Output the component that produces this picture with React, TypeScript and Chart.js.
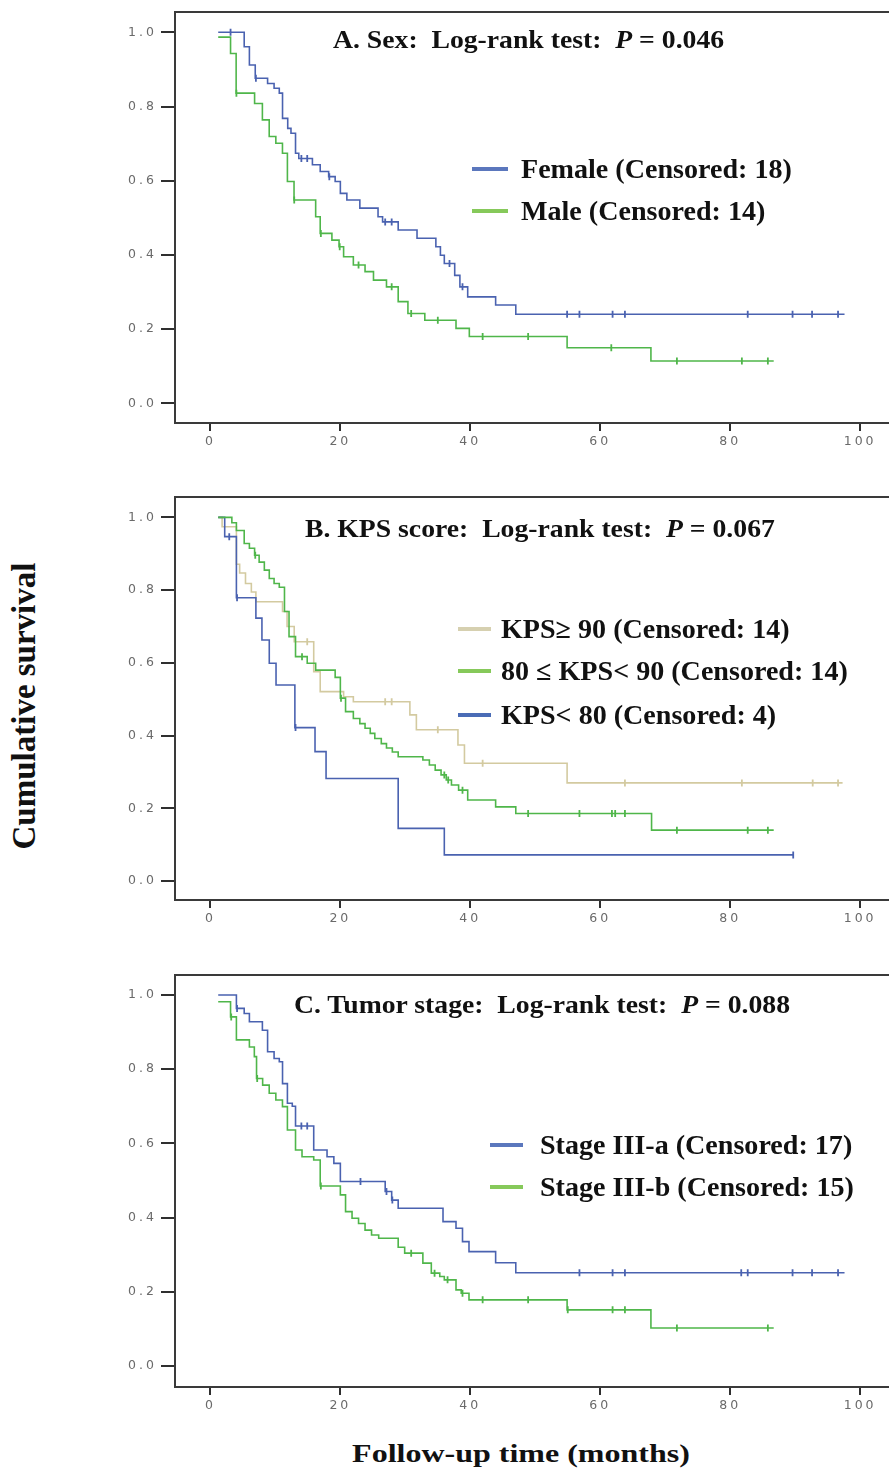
import React, { useEffect, useRef } from "react";
import { Chart, registerables } from "chart.js";

Chart.register(...registerables);

// ---------- tick labels ----------
const xTickValues = [0, 20, 40, 60, 80, 100];
const yTickValues = [0, 0.2, 0.4, 0.6, 0.8, 1.0];

// ---------- Panel A: Sex ----------
const femaleTimes = [1.2, 5.2, 6.0, 6.9, 8.8, 9.8, 10.6, 11.1, 11.9, 12.4, 13.1, 13.6, 15.7, 16.9, 18.2, 19.2, 20.0, 21.0, 23.0, 25.8, 26.5, 28.9, 31.8, 34.7, 35.4, 36.0, 37.6, 38.4, 39.6, 43.9, 47.0];
const femaleSurv = [1.0, 0.961, 0.912, 0.876, 0.862, 0.849, 0.836, 0.768, 0.741, 0.728, 0.674, 0.66, 0.643, 0.625, 0.611, 0.598, 0.566, 0.548, 0.526, 0.503, 0.489, 0.467, 0.445, 0.422, 0.399, 0.377, 0.345, 0.314, 0.287, 0.265, 0.24];
const femaleCensor = [3.1, 7.0, 14.0, 14.9, 18.3, 26.9, 27.9, 36.8, 38.8, 54.9, 56.8, 61.9, 63.8, 82.7, 89.6, 92.6, 96.6];
const femaleEnd = 97.6;

const maleTimes = [1.2, 3.1, 3.96, 6.8, 8.0, 9.05, 10.07, 11.09, 11.85, 12.87, 16.2, 16.9, 18.7, 19.8, 20.5, 22.0, 23.8, 25.1, 27.1, 28.9, 30.4, 33.0, 37.8, 39.85, 54.9, 67.8];
const maleSurv = [0.987, 0.943, 0.836, 0.808, 0.764, 0.719, 0.701, 0.674, 0.598, 0.548, 0.503, 0.458, 0.44, 0.422, 0.395, 0.373, 0.355, 0.332, 0.314, 0.274, 0.242, 0.224, 0.202, 0.18, 0.15, 0.114];
const maleCensor = [4.0, 12.9, 17.0, 19.9, 22.8, 27.9, 30.9, 35.0, 41.9, 48.9, 61.7, 71.8, 81.8, 85.8];
const maleEnd = 86.7;

// ---------- Panel B: KPS score ----------
const kpsHighTimes = [1.2, 1.8, 4.0, 4.5, 5.4, 6.3, 7.0, 11.1, 11.8, 12.9, 15.9, 16.9, 20.5, 22.0, 30.7, 31.7, 38.1, 39.1, 54.9];
const kpsHighSurv = [1.0, 0.974, 0.871, 0.847, 0.818, 0.795, 0.768, 0.741, 0.7, 0.658, 0.576, 0.521, 0.507, 0.493, 0.457, 0.416, 0.374, 0.324, 0.27];
const kpsHighCensor = [14.9, 26.9, 27.9, 35.0, 41.9, 63.8, 81.8, 92.7, 96.6];
const kpsHighEnd = 97.3;

const kpsMidTimes = [1.2, 3.3, 4.0, 5.2, 6.0, 6.8, 7.5, 8.3, 9.06, 9.8, 10.6, 11.4, 12.1, 13.1, 14.9, 16.2, 19.2, 20.0, 20.8, 22.0, 23.0, 23.8, 24.6, 25.3, 26.3, 27.1, 28.0, 28.9, 32.7, 33.7, 34.6, 35.5, 36.3, 37.1, 38.2, 39.6, 43.9, 47.0, 67.9];
const kpsMidSurv = [1.0, 0.985, 0.964, 0.928, 0.915, 0.896, 0.877, 0.855, 0.832, 0.818, 0.808, 0.741, 0.672, 0.617, 0.599, 0.58, 0.56, 0.503, 0.466, 0.447, 0.433, 0.42, 0.406, 0.392, 0.378, 0.366, 0.355, 0.342, 0.333, 0.319, 0.305, 0.292, 0.278, 0.264, 0.25, 0.223, 0.204, 0.186, 0.14];
const kpsMidCensor = [6.9, 14.1, 20.1, 36.0, 36.6, 38.8, 48.9, 56.8, 61.8, 62.3, 63.8, 71.8, 82.7, 85.8];
const kpsMidEnd = 86.7;

const kpsLowTimes = [1.2, 2.2, 4.0, 7.0, 7.93, 9.06, 10.1, 13.0, 16.1, 17.8, 28.9, 36.0];
const kpsLowSurv = [1.0, 0.947, 0.779, 0.723, 0.663, 0.599, 0.539, 0.422, 0.356, 0.282, 0.145, 0.072];
const kpsLowCensor = [2.9, 4.1, 13.1, 89.7];
const kpsLowEnd = 89.7;

// ---------- Panel C: Tumor stage ----------
const stageATimes = [1.2, 4.0, 5.2, 6.0, 8.0, 8.8, 9.8, 10.6, 11.1, 11.85, 12.6, 13.1, 15.9, 17.95, 19.0, 20.0, 26.9, 27.9, 28.9, 35.8, 37.8, 38.8, 39.8, 43.9, 47.0];
const stageASurv = [1.0, 0.964, 0.95, 0.928, 0.905, 0.847, 0.829, 0.82, 0.761, 0.708, 0.7, 0.647, 0.582, 0.564, 0.546, 0.497, 0.47, 0.447, 0.425, 0.389, 0.371, 0.335, 0.308, 0.278, 0.251];
const stageACensor = [4.1, 14.0, 14.9, 23.1, 27.1, 28.0, 56.8, 61.9, 63.8, 81.7, 82.7, 89.6, 92.6, 96.6];
const stageAEnd = 97.6;

const stageBTimes = [1.2, 3.1, 4.0, 6.0, 6.76, 7.1, 8.04, 9.05, 10.07, 11.09, 11.85, 13.1, 14.1, 15.9, 16.9, 20.0, 20.8, 21.8, 22.8, 23.8, 24.8, 25.9, 28.9, 29.9, 32.7, 34.0, 35.3, 36.0, 37.8, 38.6, 39.8, 54.9, 67.8];
const stageBSurv = [0.982, 0.941, 0.879, 0.86, 0.834, 0.775, 0.757, 0.735, 0.717, 0.699, 0.636, 0.582, 0.564, 0.555, 0.485, 0.461, 0.416, 0.398, 0.384, 0.366, 0.353, 0.344, 0.32, 0.304, 0.277, 0.25, 0.241, 0.232, 0.205, 0.196, 0.178, 0.151, 0.102];
const stageBCensor = [3.2, 7.2, 17.0, 30.9, 34.5, 36.5, 38.8, 41.9, 48.9, 55.0, 61.9, 63.8, 71.8, 85.8];
const stageBEnd = 86.7;

// ---------- colours ----------
const BLUE = "#4a62b0";
const GREEN = "#4fb64a";
const BEIGE = "#d3caa0";
const SERIF = '"Liberation Serif", "Times New Roman", serif';

type Series = { times: number[]; surv: number[]; censor: number[]; end: number; color: string; legendColor: string; label: string };

type Panel = {
  key: string;
  canvasTop: number;
  areaTop: number;
  areaBottom: number;
  yMin: number;
  yMax: number;
  titleMain: string;
  pValue: string;
  titleLeft: number;
  titleCenterY: number;
  legendTextLeft: number;
  legendLineLeft: number;
  legendLineWidth: number;
  legendYs: number[];
  series: Series[];
  drawOrder: number[];
};

const panels: Panel[] = [
  {
    key: "A",
    canvasTop: 0,
    areaTop: 12,
    areaBottom: 423,
    yMin: -0.053,
    yMax: 1.0547,
    titleMain: "A. Sex:  Log-rank test:  ",
    pValue: " = 0.046",
    titleLeft: 333,
    titleCenterY: 40,
    legendTextLeft: 521,
    legendLineLeft: 472,
    legendLineWidth: 36,
    legendYs: [169, 211],
    series: [
      { times: femaleTimes, surv: femaleSurv, censor: femaleCensor, end: femaleEnd, color: BLUE, legendColor: "#5b77bd", label: "Female (Censored: 18)" },
      { times: maleTimes, surv: maleSurv, censor: maleCensor, end: maleEnd, color: GREEN, legendColor: "#86c95a", label: "Male (Censored: 14)" },
    ],
    drawOrder: [1, 0],
  },
  {
    key: "B",
    canvasTop: 485,
    areaTop: 497,
    areaBottom: 900,
    yMin: -0.052,
    yMax: 1.056,
    titleMain: "B. KPS score:  Log-rank test:  ",
    pValue: " = 0.067",
    titleLeft: 305,
    titleCenterY: 529,
    legendTextLeft: 501,
    legendLineLeft: 458,
    legendLineWidth: 33,
    legendYs: [629, 671, 715],
    series: [
      { times: kpsHighTimes, surv: kpsHighSurv, censor: kpsHighCensor, end: kpsHighEnd, color: BEIGE, legendColor: "#d6d0b0", label: "KPS\u2265 90 (Censored: 14)" },
      { times: kpsMidTimes, surv: kpsMidSurv, censor: kpsMidCensor, end: kpsMidEnd, color: GREEN, legendColor: "#86c95a", label: "80 \u2264 KPS< 90 (Censored: 14)" },
      { times: kpsLowTimes, surv: kpsLowSurv, censor: kpsLowCensor, end: kpsLowEnd, color: BLUE, legendColor: "#4a6cb6", label: "KPS< 80 (Censored: 4)" },
    ],
    drawOrder: [0, 2, 1],
  },
  {
    key: "C",
    canvasTop: 963,
    areaTop: 975,
    areaBottom: 1387,
    yMin: -0.057,
    yMax: 1.054,
    titleMain: "C. Tumor stage:  Log-rank test:  ",
    pValue: " = 0.088",
    titleLeft: 294,
    titleCenterY: 1005,
    legendTextLeft: 540,
    legendLineLeft: 490,
    legendLineWidth: 33,
    legendYs: [1145, 1187],
    series: [
      { times: stageATimes, surv: stageASurv, censor: stageACensor, end: stageAEnd, color: BLUE, legendColor: "#5b77bd", label: "Stage III-a (Censored: 17)" },
      { times: stageBTimes, surv: stageBSurv, censor: stageBCensor, end: stageBEnd, color: GREEN, legendColor: "#86c95a", label: "Stage III-b (Censored: 15)" },
    ],
    drawOrder: [1, 0],
  },
];

// layout constants (page pixels)
const CANVAS_LEFT = 100;
const CANVAS_WIDTH = 794;
const Y_AXIS_WIDTH = 75;
const X_AXIS_HEIGHT = 47;
const PX_ZERO = 210.7; // month 0
const PX_PER_MONTH = 6.55;
const AREA_LEFT = CANVAS_LEFT + Y_AXIS_WIDTH;
const AREA_RIGHT = CANVAS_LEFT + CANVAS_WIDTH;
const X_MIN = (AREA_LEFT - PX_ZERO) / PX_PER_MONTH;
const X_MAX = (AREA_RIGHT - PX_ZERO) / PX_PER_MONTH;

function curvePoints(s: Series) {
  const pts = s.times.map((t, i) => ({ x: t, y: s.surv[i] }));
  pts.push({ x: s.end, y: s.surv[s.surv.length - 1] });
  return pts;
}

function censorPoints(s: Series) {
  return s.censor.map((c) => {
    let v = s.surv[0];
    for (let i = 0; i < s.times.length; i++) {
      if (s.times[i] <= c) v = s.surv[i];
    }
    return { x: c, y: v };
  });
}

const spacingPlugin = {
  id: "tickSpacing",
  beforeDraw(chart: any) {
    chart.ctx.letterSpacing = "3px";
  },
  afterDraw(chart: any) {
    chart.ctx.letterSpacing = "0px";
  },
};

function PanelChart({ panel }: { panel: Panel }) {
  const ref = useRef<HTMLCanvasElement | null>(null);
  const height = panel.areaBottom - panel.canvasTop + X_AXIS_HEIGHT;

  useEffect(() => {
    if (!ref.current) return;
    const datasets: any[] = [];
    panel.drawOrder.forEach((idx, k) => {
      const s = panel.series[idx];
      datasets.push({
        data: curvePoints(s),
        borderColor: s.color,
        borderWidth: 1.6,
        stepped: "before",
        pointRadius: 0,
        fill: false,
        order: 10 - k,
      });
      datasets.push({
        data: censorPoints(s),
        showLine: false,
        pointStyle: "line",
        rotation: 90,
        pointRadius: 3.5,
        pointBorderWidth: 1.8,
        pointBorderColor: s.color,
        borderColor: s.color,
        order: 10 - k,
      });
    });

    const tickFont = { family: '"DejaVu Sans", sans-serif', size: 12.5 };
    const chart = new Chart(ref.current, {
      type: "line",
      data: { datasets },
      plugins: [spacingPlugin],
      options: {
        animation: false,
        responsive: false,
        maintainAspectRatio: false,
        events: [],
        layout: { padding: { top: panel.areaTop - panel.canvasTop, left: 0, right: 0, bottom: 0 } },
        plugins: { legend: { display: false }, tooltip: { enabled: false }, title: { display: false } },
        scales: {
          x: {
            type: "linear",
            position: "bottom",
            min: X_MIN,
            max: X_MAX,
            afterBuildTicks: (axis: any) => {
              axis.ticks = xTickValues.map((v) => ({ value: v }));
            },
            afterFit: (axis: any) => {
              axis.height = X_AXIS_HEIGHT;
            },
            grid: { drawOnChartArea: false, drawTicks: true, tickLength: 8, color: "#2f2f2f", lineWidth: 2 },
            border: { display: true, color: "#3a3a3a", width: 2 },
            ticks: { font: tickFont, color: "#6a6a6a", padding: 3, maxRotation: 0, autoSkip: false, callback: (v: any) => String(v) },
          },
          xTop: {
            type: "linear",
            position: "top",
            min: X_MIN,
            max: X_MAX,
            ticks: { display: false },
            grid: { display: false },
            border: { display: true, color: "#3a3a3a", width: 2 },
            afterFit: (axis: any) => {
              axis.height = 0;
            },
          },
          y: {
            type: "linear",
            min: panel.yMin,
            max: panel.yMax,
            afterBuildTicks: (axis: any) => {
              axis.ticks = yTickValues.map((v) => ({ value: v }));
            },
            afterFit: (axis: any) => {
              axis.width = Y_AXIS_WIDTH;
            },
            grid: { drawOnChartArea: false, drawTicks: true, tickLength: 14, color: "#2f2f2f", lineWidth: 2 },
            border: { display: true, color: "#3a3a3a", width: 2 },
            ticks: { font: tickFont, color: "#6a6a6a", padding: 4, autoSkip: false, callback: (v: any) => Number(v).toFixed(1) },
          },
        },
      } as any,
    });
    return () => chart.destroy();
  }, [panel]);

  return (
    <canvas
      ref={ref}
      width={CANVAS_WIDTH}
      height={height}
      style={{ position: "absolute", left: CANVAS_LEFT, top: panel.canvasTop, width: CANVAS_WIDTH, height }}
    />
  );
}

function PanelText({ panel }: { panel: Panel }) {
  const titleSize = 26;
  const legendSize = 27;
  return (
    <>
      <div
        style={{
          position: "absolute",
          left: panel.titleLeft,
          top: panel.titleCenterY - titleSize / 2,
          fontFamily: SERIF,
          fontWeight: "bold",
          fontSize: titleSize,
          lineHeight: `${titleSize}px`,
          whiteSpace: "pre",
          color: "#111",
          transform: "scaleX(1.065)",
          transformOrigin: "left center",
        }}
      >
        {panel.titleMain}
        <i>P</i>
        {panel.pValue}
      </div>
      {panel.series.map((s, i) => (
        <React.Fragment key={s.label}>
          <div
            style={{
              position: "absolute",
              left: panel.legendLineLeft,
              top: panel.legendYs[i] - 2,
              width: panel.legendLineWidth,
              height: 4,
              background: s.legendColor,
            }}
          />
          <div
            style={{
              position: "absolute",
              left: panel.legendTextLeft,
              top: panel.legendYs[i] - legendSize / 2,
              fontFamily: SERIF,
              fontWeight: "bold",
              fontSize: legendSize,
              lineHeight: `${legendSize}px`,
              whiteSpace: "pre",
              color: "#111",
              transform: "scaleX(1.04)",
              transformOrigin: "left center",
            }}
          >
            {s.label}
          </div>
        </React.Fragment>
      ))}
    </>
  );
}

export default function App() {
  return (
    <div style={{ position: "absolute", left: 0, top: 0, width: 894, height: 1471, overflow: "hidden", background: "#fff" }}>
      {panels.map((p) => (
        <PanelChart key={p.key} panel={p} />
      ))}
      {panels.map((p) => (
        <PanelText key={"t" + p.key} panel={p} />
      ))}
      <div
        style={{
          position: "absolute",
          left: 24,
          top: 706,
          transform: "translate(-50%, -50%) rotate(-90deg)",
          fontFamily: SERIF,
          fontWeight: "bold",
          fontSize: 33,
          lineHeight: "33px",
          whiteSpace: "nowrap",
          color: "#111",
        }}
      >
        Cumulative survival
      </div>
      <div
        style={{
          position: "absolute",
          left: 521,
          top: 1453,
          transform: "translate(-50%, -50%) scaleX(1.28)",
          fontFamily: SERIF,
          fontWeight: "bold",
          fontSize: 25,
          lineHeight: "25px",
          whiteSpace: "nowrap",
          color: "#111",
        }}
      >
        Follow-up time (months)
      </div>
    </div>
  );
}
